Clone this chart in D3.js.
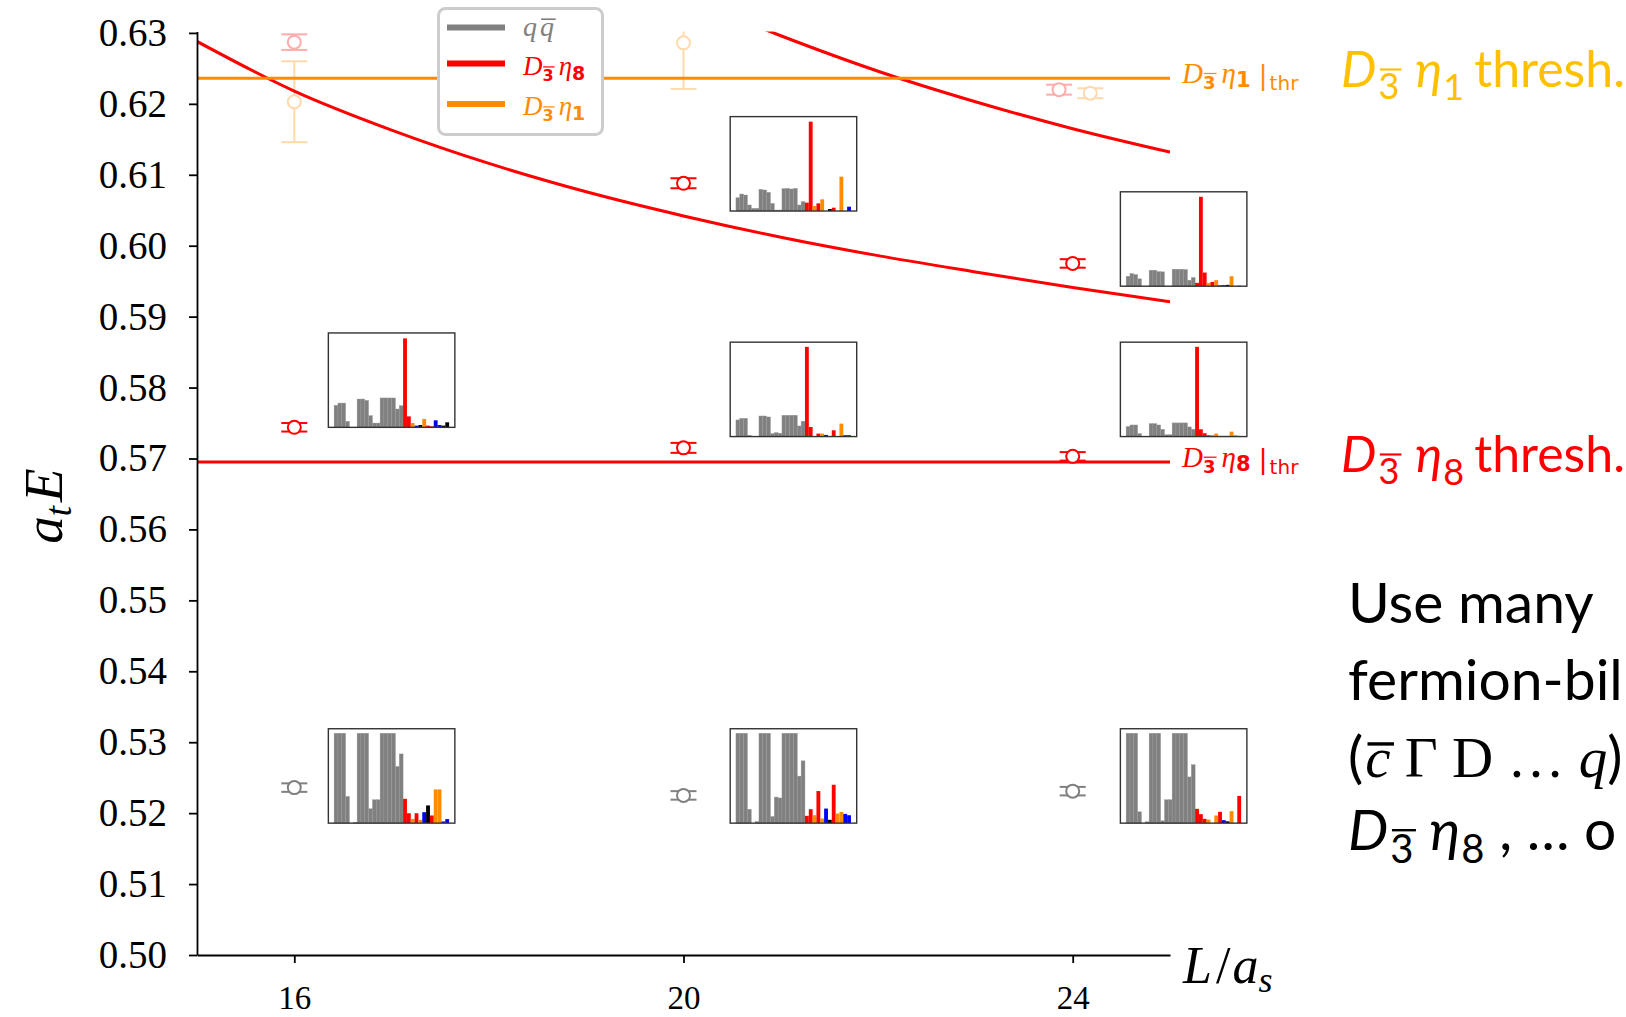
<!DOCTYPE html>
<html>
<head>
	<meta charset="utf-8">
	<title>Charm meson levels with operator overlaps</title>
	<style type="text/css">
		body {
			margin: 0;
			background: #fff;
		}

		.axis path,
		.axis line {
			stroke: #000;
			stroke-width: 1.8;
		}

		.axis text {
			font-family: "Liberation Serif", serif;
			fill: #000;
		}

		.curve {
			fill: none;
			stroke: #ff0000;
			stroke-width: 3;
		}
	</style>
	<script src="https://d3js.org/d3.v7.min.js"></script>
</head>
<body>
<script type="text/javascript">
	// values
	var xTicks = [16, 20, 24];
	var yTicks = [0.50, 0.51, 0.52, 0.53, 0.54, 0.55, 0.56, 0.57, 0.58, 0.59, 0.60, 0.61, 0.62, 0.63];

	var volumes = [16, 20, 24];
	var qqE = [0.5236, 0.5225, 0.5231];
	var qqErr = [0.0006, 0.0006, 0.0006];
	var d8LowE = [0.5744, 0.5715, 0.5703];
	var d8LowErr = [0.0006, 0.0007, 0.0006];
	var d8HighL = [20, 24];
	var d8HighE = [0.6088, 0.5975];
	var d8HighErr = [0.0007, 0.0006];

	// faint (less reliable) levels
	var faintL = [16, 16, 20, 23.86, 24.18];
	var faintE = [0.6287, 0.6203, 0.6286, 0.6220, 0.6215];
	var faintErr = [0.0011, 0.0057, 0.0065, 0.0007, 0.0007];
	var faintKind = ["r", "o", "o", "r", "o"];

	var thrEta1 = 0.6236;
	var thrEta8 = 0.5695;

	// non-interacting D eta8 levels with back-to-back momentum
	var curveL = [15, 16, 17, 18, 19, 20, 21, 22, 23, 24, 25];
	var curveLowE = [0.6288, 0.6218, 0.6163, 0.6116, 0.6076, 0.6042, 0.6012, 0.5986, 0.5963, 0.5941, 0.5921];
	var curveHighL = [20.5, 21, 22, 23, 24, 25];
	var curveHighE = [0.6323, 0.6296, 0.6246, 0.6203, 0.6165, 0.6132];

	// overlaps: 18 q-qbar operators then 12 meson-meson operators
	var zUp20 = [0.148, 0.189, 0.178, 0.067, 0.03, 0.03, 0.241, 0.234, 0.208, 0.085, 0.011, 0.011, 0.249, 0.252, 0.245, 0.252, 0.067, 0.104,
		0.093, 0.994, 0.056, 0.085, 0.13, 0, 0.022, 0.037, 0, 0.382, 0, 0.048];
	var kUp20 = "rrorobkroobb";
	var zUp24 = [0.111, 0.141, 0.13, 0.082, 0, 0, 0.178, 0.178, 0.163, 0.16, 0, 0, 0.189, 0.189, 0.189, 0.186, 0.067, 0.096,
		0.037, 0.994, 0.152, 0.037, 0.048, 0.067, 0.011, 0.011, 0.015, 0.111, 0, 0.005];
	var kUp24 = "rrrororbkoob";
	var zMid16 = [0.245, 0.27, 0.27, 0.067, 0, 0, 0.315, 0.315, 0.30, 0.13, 0.048, 0.048, 0.327, 0.327, 0.327, 0.327, 0.204, 0.241,
		0.99, 0.122, 0.048, 0.019, 0.026, 0.093, 0.019, 0.011, 0.078, 0.026, 0.019, 0.056];
	var kMid16 = "rrobkorrbbkk";
	var zMid20 = [0.185, 0.203, 0.203, 0.015, 0, 0, 0.229, 0.229, 0.218, 0.033, 0.044, 0.037, 0.237, 0.237, 0.237, 0.237, 0.118, 0.17,
		0.998, 0.107, 0, 0.033, 0.033, 0.018, 0, 0.07, 0, 0.144, 0.015, 0.015];
	var kMid20 = "rrorobkroobb";
	var zMid24 = [0.111, 0.129, 0.129, 0.033, 0, 0, 0.144, 0.144, 0.129, 0.081, 0.02, 0.02, 0.152, 0.152, 0.152, 0.152, 0.107, 0.081,
		0.998, 0.081, 0.037, 0.015, 0.015, 0.033, 0.007, 0.007, 0.007, 0.055, 0.011, 0.007];
	var kMid24 = "rrrroobkrorr";
	var zGnd16 = [1, 1, 1, 0.297, 0, 0.01, 1, 1, 1, 0.16, 0.26, 0.26, 1, 1, 1, 1, 0.63, 0.77,
		0.27, 0.11, 0.048, 0.11, 0.037, 0.122, 0.197, 0.085, 0.375, 0.375, 0.019, 0.045];
	var kGnd16 = "rrorobkroobb";
	var zGnd20 = [1, 1, 1, 0.155, 0, 0.018, 1, 1, 1, 0.074, 0.29, 0.28, 1, 1, 1, 1, 0.523, 0.693,
		0.081, 0.155, 0.088, 0.357, 0.052, 0.162, 0.037, 0.427, 0.107, 0.125, 0.103, 0.088];
	var kGnd20 = "rrorobkroobb";
	var zGnd24 = [1, 1, 1, 0.126, 0, 0.015, 1, 1, 1, 0.026, 0.26, 0.26, 1, 1, 1, 1, 0.514, 0.65,
		0.159, 0.1, 0.048, 0.04, 0, 0.085, 0.126, 0.033, 0.02, 0.133, 0, 0.303];
	var kGnd24 = "rrrooorbkorr";

	var colors = {g: "#808080", r: "#ff0000", o: "#ff8c00", b: "#0000ff", k: "#000000"};
	var serif = '"Liberation Serif", serif',
		sans = '"DejaVu Sans", sans-serif',
		slide = 'Lato, "Open Sans", sans-serif';

	var svg = d3.select("body").append("svg")
		.attr("width", 1626)
		.attr("height", 1017);

	var margin = {top: 31.5, right: 456, bottom: 62, left: 197},
		width = 1626 - margin.left - margin.right,
		height = 1017 - margin.top - margin.bottom;

	var x = d3.scaleLinear().domain([15, 25]).range([0, width]),
		y = d3.scaleLinear().domain([0.5, 0.6302]).range([height, 0]);

	var g = svg.append("g")
		.attr("transform", "translate(" + margin.left + "," + margin.top + ")");

	g.append("clipPath").attr("id", "plot")
		.append("rect").attr("width", width).attr("height", height);

	var plot = g.append("g").attr("clip-path", "url(#plot)");

	// builds a math-ish label from tspans; p.o draws a bar over the tspan
	function addParts(text, parts) {
		var bars = [];
		parts.forEach(function(p) {
			var ts = text.append("tspan").text(p.t);
			if (p.dx) ts.attr("dx", p.dx);
			if (p.dy) ts.attr("dy", p.dy);
			ts.style("font-family", p.f || serif);
			if (p.s) ts.style("font-size", p.s + "px");
			if (p.i) ts.style("font-style", "italic");
			if (p.b) ts.style("font-weight", "bold");
			if (p.o) bars.push([ts, p]);
		});
		bars.forEach(function(b) {
			var n = b[0].node(), p = b[1],
				a = n.getStartPositionOfChar(0),
				e = n.getEndPositionOfChar(p.t.length - 1),
				yb = a.y - p.s * p.o;
			d3.select(text.node().parentNode).append("line")
				.attr("x1", a.x + p.s * 0.04).attr("x2", e.x + p.s * 0.06)
				.attr("y1", yb).attr("y2", yb)
				.attr("stroke", text.attr("fill") || "#000")
				.attr("stroke-width", Math.max(1.2, p.s * 0.06));
		});
		return text;
	}

	function point(L, E, err, color, alpha) {
		var p = plot.append("g").attr("opacity", alpha),
			cx = x(L);
		p.append("line")
			.attr("x1", cx).attr("x2", cx)
			.attr("y1", y(E + err)).attr("y2", y(E - err));
		[E + err, E - err].forEach(function(v) {
			p.append("line")
				.attr("x1", cx - 13).attr("x2", cx + 13)
				.attr("y1", y(v)).attr("y2", y(v));
		});
		p.selectAll("line").attr("stroke", color).attr("stroke-width", 2);
		p.append("circle")
			.attr("cx", cx).attr("cy", y(E)).attr("r", 6.5)
			.attr("fill", "#fff").attr("stroke", color).attr("stroke-width", 2);
	}

	// faint levels first, lines drawn over them
	faintL.forEach(function(L, i) {
		point(L, faintE[i], faintErr[i], colors[faintKind[i]], 0.32);
	});

	var line = d3.line()
		.x(function(d) { return x(d[0]); })
		.y(function(d) { return y(d[1]); })
		.curve(d3.curveMonotoneX);

	plot.append("path").attr("class", "curve")
		.attr("d", line(d3.zip(curveL, curveLowE)));
	plot.append("path").attr("class", "curve")
		.attr("d", line(d3.zip(curveHighL, curveHighE)));

	plot.append("line")
		.attr("x1", 0).attr("x2", width)
		.attr("y1", y(thrEta1)).attr("y2", y(thrEta1))
		.attr("stroke", colors.o).attr("stroke-width", 3);
	plot.append("line")
		.attr("x1", 0).attr("x2", width)
		.attr("y1", y(thrEta8)).attr("y2", y(thrEta8))
		.attr("stroke", colors.r).attr("stroke-width", 3);

	volumes.forEach(function(L, i) {
		point(L, qqE[i], qqErr[i], colors.g, 1);
		point(L, d8LowE[i], d8LowErr[i], colors.r, 1);
	});
	d8HighL.forEach(function(L, i) {
		point(L, d8HighE[i], d8HighErr[i], colors.r, 1);
	});

	// inset overlap histograms, anchored in data coordinates
	var insets = [
		{L: 20.48, E: 0.6182, z: zUp20, k: kUp20},
		{L: 24.49, E: 0.6076, z: zUp24, k: kUp24},
		{L: 16.35, E: 0.5877, z: zMid16, k: kMid16},
		{L: 20.48, E: 0.5864, z: zMid20, k: kMid20},
		{L: 24.49, E: 0.5864, z: zMid24, k: kMid24},
		{L: 16.35, E: 0.5319, z: zGnd16, k: kGnd16},
		{L: 20.48, E: 0.5319, z: zGnd20, k: kGnd20},
		{L: 24.49, E: 0.5319, z: zGnd24, k: kGnd24}
	];

	var iw = 126.5, ih = 94.4;
	var xi = d3.scaleBand().domain(d3.range(30)).range([iw * 1.5 / 33, iw * 31.5 / 33]),
		yi = d3.scaleLinear().domain([0, 1.05]).range([ih, 0]);

	insets.forEach(function(ins) {
		var kinds = "gggggggggggggggggg" + ins.k;
		var h = g.append("g")
			.attr("transform", "translate(" + x(ins.L) + "," + y(ins.E) + ")");
		h.append("rect").attr("width", iw).attr("height", ih).attr("fill", "#fff");
		h.selectAll(".zbar").data(ins.z).enter().append("rect")
			.attr("class", "zbar")
			.attr("x", function(d, j) { return xi(j); })
			.attr("width", xi.bandwidth())
			.attr("y", function(d) { return yi(d); })
			.attr("height", function(d) { return ih - yi(d); })
			.attr("fill", function(d, j) { return colors[kinds[j]]; })
			.attr("stroke", function(d, j) { return j < 18 ? "#9a9a9a" : "none"; })
			.attr("stroke-width", 0.4);
		h.append("rect").attr("width", iw).attr("height", ih)
			.attr("fill", "none").attr("stroke", "#333").attr("stroke-width", 1.4);
	});

	// axes
	var axisX = d3.axisBottom(x).tickValues(xTicks).tickSize(8).tickSizeOuter(0).tickPadding(23);
	var axisY = d3.axisLeft(y).tickValues(yTicks).tickFormat(d3.format(".2f"))
		.tickSize(8).tickSizeOuter(0).tickPadding(22);

	g.append("g").attr("class", "x axis")
		.attr("transform", "translate(0," + height + ")")
		.call(axisX)
		.selectAll("text").style("font-size", "33px");
	g.append("g").attr("class", "y axis")
		.call(axisY)
		.selectAll("text").style("font-size", "39px");

	addParts(svg.append("text")
		.attr("transform", "translate(62,506) rotate(-90)")
		.attr("text-anchor", "middle"), [
		{t: "a", i: 1, s: 55},
		{t: "t", i: 1, s: 37, dy: 9},
		{t: "E", i: 1, s: 55, dy: -9, dx: 4}
	]);

	addParts(svg.append("text").attr("x", 1183).attr("y", 983), [
		{t: "L", i: 1, s: 52},
		{t: "/", s: 52, dx: 4},
		{t: "a", i: 1, s: 52, dx: 2},
		{t: "s", i: 1, s: 36, dy: 9}
	]);

	// legend
	var legend = svg.append("g");
	legend.append("rect")
		.attr("x", 438.5).attr("y", 8.5).attr("width", 164).attr("height", 126).attr("rx", 7)
		.attr("fill", "#fff").attr("stroke", "#cccccc").attr("stroke-width", 3);
	var legendKinds = ["g", "r", "o"],
		legendY = [27.5, 63.5, 104];
	legendKinds.forEach(function(k, i) {
		legend.append("line")
			.attr("x1", 447).attr("x2", 505)
			.attr("y1", legendY[i]).attr("y2", legendY[i])
			.attr("stroke", colors[k]).attr("stroke-width", 6);
	});
	addParts(legend.append("text").attr("x", 523).attr("y", 36).attr("fill", colors.g), [
		{t: "q", i: 1, s: 28},
		{t: "q", i: 1, s: 28, dx: 3, o: 0.6}
	]);
	[["8", colors.r, 75], ["1", colors.o, 115]].forEach(function(e) {
		addParts(legend.append("text").attr("x", 523).attr("y", e[2]).attr("fill", e[1]), [
			{t: "D", i: 1, s: 27},
			{t: "3", f: sans, b: 1, s: 16, dy: 6, o: 0.88},
			{t: "η", i: 1, s: 27, dy: -6, dx: 5},
			{t: e[0], f: sans, b: 1, s: 19, dy: 5}
		]);
	});

	// threshold tags at the line ends
	[[thrEta1, colors.o, "1"], [thrEta8, colors.r, "8"]].forEach(function(e) {
		addParts(svg.append("text")
			.attr("x", 1182).attr("y", margin.top + y(e[0]) + 5).attr("fill", e[1]), [
			{t: "D", i: 1, s: 29},
			{t: "3", f: sans, b: 1, s: 18, dy: 6, o: 0.88},
			{t: "η", i: 1, s: 29, dy: -6, dx: 6},
			{t: e[2], f: sans, b: 1, s: 21, dy: 4},
			{t: "|", f: sans, s: 27, dy: -3, dx: 8},
			{t: "thr", f: sans, s: 20, dy: 6, dx: 2}
		]);
	});

	// slide annotations
	[[87, "#ffc000", "1"], [472, "#ff0000", "8"]].forEach(function(e) {
		addParts(svg.append("text").attr("x", 1341).attr("y", e[0]).attr("fill", e[1]), [
			{t: "D", f: slide, i: 1, s: 50},
			{t: "3", f: slide, s: 36, dy: 12, dx: 2, o: 0.82},
			{t: "η", f: slide, i: 1, s: 50, dy: -12, dx: 16},
			{t: e[2], f: slide, s: 36, dy: 13, dx: 1},
			{t: "thresh.", f: slide, s: 50, dy: -13, dx: 10}
		]);
	});

	// the slide text runs off the right edge; only the visible part is kept
	var note = svg.append("g");
	addParts(note.append("text").attr("x", 1348).attr("y", 623).attr("fill", "#000"), [
		{t: "Use many", f: slide, s: 57}
	]);
	addParts(note.append("text").attr("x", 1348).attr("y", 700).attr("fill", "#000"), [
		{t: "fermion-bil", f: slide, s: 57}
	]);
	addParts(note.append("text").attr("x", 1348).attr("y", 777).attr("fill", "#000"), [
		{t: "(", f: slide, s: 57},
		{t: "c", i: 1, s: 57, dx: 2, o: 0.58},
		{t: " Γ D … ", s: 57},
		{t: "q", i: 1, s: 57},
		{t: ")", f: slide, s: 57}
	]);
	addParts(note.append("text").attr("x", 1348).attr("y", 850).attr("fill", "#000"), [
		{t: "D", f: slide, i: 1, s: 57},
		{t: "3", f: slide, s: 40, dy: 13, dx: 2, o: 0.82},
		{t: "η", f: slide, i: 1, s: 57, dy: -13, dx: 16},
		{t: "8", f: slide, s: 40, dy: 13, dx: 1},
		{t: " , … o", f: slide, s: 57, dy: -13}
	]);
</script>
</body>
</html>
